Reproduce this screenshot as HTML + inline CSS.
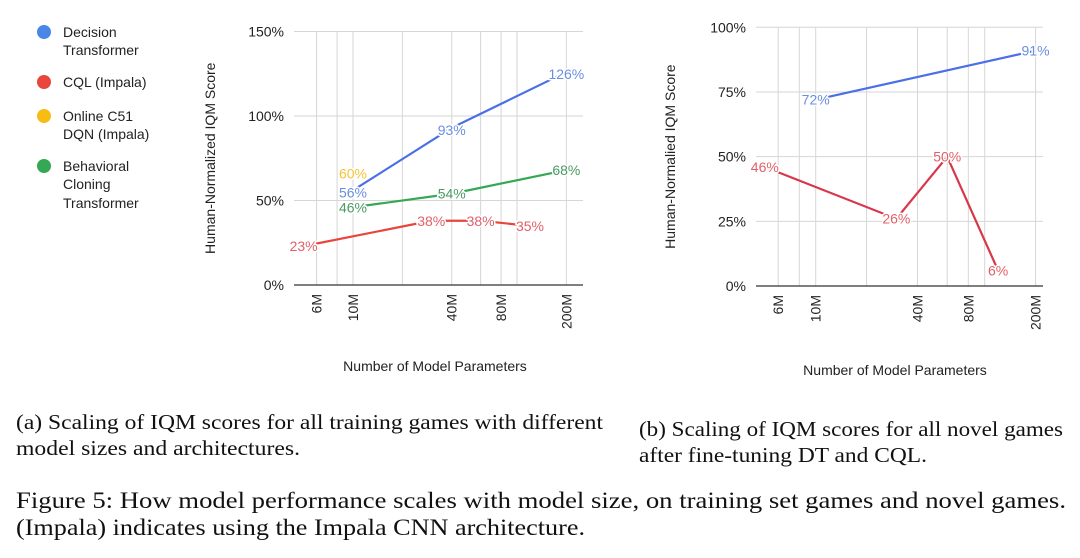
<!DOCTYPE html>
<html><head><meta charset="utf-8"><style>
html,body{margin:0;padding:0;background:#fff;}
svg{display:block;font-family:"Liberation Sans",Arial,sans-serif;}
.serif{font-family:"Liberation Serif","Times New Roman",serif;fill:#111;}
.tick{font-size:14px;fill:#222;}
.lab{font-size:14px;paint-order:stroke;stroke:#fff;stroke-width:3px;stroke-linejoin:round;}
.leg{font-size:14px;fill:#222;}
</style></head><body>
<svg id="fig" width="1080" height="558" viewBox="0 0 1080 558">
<g>
 <g><circle cx="44" cy="32" r="7" fill="#4a86e8"/><text class="leg" x="63" y="37">Decision</text><text class="leg" x="63" y="55">Transformer</text></g>
 <g><circle cx="44" cy="82" r="7" fill="#e8453c"/><text class="leg" x="63" y="87">CQL (Impala)</text></g>
 <g><circle cx="44" cy="116" r="7" fill="#f9bc15"/><text class="leg" x="63" y="121">Online C51</text><text class="leg" x="63" y="139">DQN (Impala)</text></g>
 <g><circle cx="44" cy="166" r="7" fill="#34a853"/><text class="leg" x="63" y="171">Behavioral</text><text class="leg" x="63" y="189">Cloning</text><text class="leg" x="63" y="208">Transformer</text></g>
</g>
<g id="chartA"></g>
<g id="chartB"></g>
<text class="serif" x="16" y="429" font-size="21.5" textLength="587" lengthAdjust="spacingAndGlyphs">(a) Scaling of IQM scores for all training games with different</text>
<text class="serif" x="16" y="455" font-size="21.5" textLength="284" lengthAdjust="spacingAndGlyphs">model sizes and architectures.</text>
<text class="serif" x="639" y="436" font-size="21.5" textLength="424" lengthAdjust="spacingAndGlyphs">(b) Scaling of IQM scores for all novel games</text>
<text class="serif" x="639" y="462" font-size="21.5" textLength="288" lengthAdjust="spacingAndGlyphs">after fine-tuning DT and CQL.</text>
<text class="serif" x="16" y="508" font-size="23.5" textLength="1050" lengthAdjust="spacingAndGlyphs">Figure 5: How model performance scales with model size, on training set games and novel games.</text>
<text class="serif" x="16" y="535" font-size="23.5" textLength="569" lengthAdjust="spacingAndGlyphs">(Impala) indicates using the Impala CNN architecture.</text>
</svg>
<script>
// Chart A data
const aDtSizes = [10, 40, 200];
const aDtVals = [56, 93, 126];
const aCqlSizes = [5, 30, 60, 120];
const aCqlVals = [23, 38, 38, 35];
const aC51Sizes = [10];
const aC51Vals = [60];
const aBcSizes = [10, 40, 200];
const aBcVals = [46, 54, 68];
const aYTicks = [0, 50, 100, 150];
// Chart B data
const bDtSizes = [10, 200];
const bDtVals = [72, 91];
const bCqlSizes = [5, 30, 60, 120];
const bCqlVals = [46, 26, 50, 6];
const bYTicks = [0, 25, 50, 75, 100];
// shared axis
const xTickLabels = ['6M', '10M', '40M', '80M', '200M'];
const xTickVals = [6, 10, 40, 80, 200];
const xGridVals = [6, 8, 10, 20, 40, 60, 80, 100, 200];

const NS = 'http://www.w3.org/2000/svg';
function mk(parent, tag, attrs, text) {
  const e = document.createElementNS(NS, tag);
  for (const k in attrs) e.setAttribute(k, attrs[k]);
  if (text !== undefined) e.textContent = text;
  parent.appendChild(e);
  return e;
}
function drawChart(g, cfg) {
  const xs = v => cfg.x10 + Math.log10(v / 10) * cfg.pxDec;
  const ys = v => cfg.y0 - (v / cfg.yMax) * (cfg.y0 - cfg.yTop);
  xGridVals.forEach(v => {
    const l = mk(g, 'line', {x1: xs(v), x2: xs(v), y1: cfg.yTop, y2: cfg.y0, stroke: '#d6d6d6', 'stroke-width': 1});
    
    
  });
  cfg.yTicks.forEach(v => {
    const l = mk(g, 'line', {x1: cfg.xL, x2: cfg.xR, y1: ys(v), y2: ys(v), stroke: v === 0 ? '#333' : '#d6d6d6', 'stroke-width': v === 0 ? 1.3 : 1});
    
    
    const t = mk(g, 'text', {class: 'tick', x: cfg.xL - 10, y: ys(v) + 5, 'text-anchor': 'end'}, v + '%');
    
    
  });
  xTickVals.forEach((v, i) => {
    const x = xs(v) + 5;
    const t = mk(g, 'text', {class: 'tick', x: 0, y: 0, 'text-anchor': 'end', transform: `translate(${x},${cfg.y0 + 9}) rotate(-90)`}, xTickLabels[i]);
    
    
  });
  const yt = mk(g, 'text', {class: 'tick', 'text-anchor': 'middle', transform: `translate(${cfg.yTitleX},${(cfg.yTop + cfg.y0) / 2}) rotate(-90)`}, cfg.yTitle);
  
  
  const xt = mk(g, 'text', {class: 'tick', x: cfg.xTitleX, y: cfg.xTitleY, 'text-anchor': 'middle'}, 'Number of Model Parameters');
  
  
  cfg.series.forEach(s => {
    const pts = s.sizes.map((v, i) => xs(v) + ',' + ys(s.vals[i])).join(' ');
    if (s.sizes.length > 1) {
      const p = mk(g, 'polyline', {points: pts, fill: 'none', stroke: s.color, 'stroke-width': 2.2});
      
      
    }
    s.sizes.forEach((v, i) => {
      const t = mk(g, 'text', {class: 'lab', x: xs(v), y: ys(s.vals[i]) + 5 + (s.dy || 0), 'text-anchor': 'middle', fill: s.labColor}, s.vals[i] + '%');
      
      
    });
  });
}
drawChart(document.getElementById('chartA'), {
  x10: 353, pxDec: 164, y0: 285, yTop: 31.5, yMax: 150, xL: 294, xR: 583,
  yTicks: aYTicks, yTitle: 'Human-Normalized IQM Score', yTitleX: 215, xTitleX: 435, xTitleY: 371,
  series: [
    {name: 'cql', sizes: aCqlSizes, vals: aCqlVals, color: '#e8453c', labColor: '#e0606a'},
    {name: 'bc', sizes: aBcSizes, vals: aBcVals, color: '#34a853', labColor: '#4a9a62'},
    {name: 'c51', sizes: aC51Sizes, vals: aC51Vals, color: '#f9bc15', labColor: '#f5c430', dy: -10},
    {name: 'dt', sizes: aDtSizes, vals: aDtVals, color: '#4a6fe8', labColor: '#6a8ee0', dy: 2}
  ]
});
drawChart(document.getElementById('chartB'), {
  x10: 815.7, pxDec: 169, y0: 286, yTop: 27.3, yMax: 100, xL: 756, xR: 1043,
  yTicks: bYTicks, yTitle: 'Human-Normalied IQM Score', yTitleX: 675, xTitleX: 895, xTitleY: 375,
  series: [
    {name: 'cql', sizes: bCqlSizes, vals: bCqlVals, color: '#d9364a', labColor: '#e0606a'},
    {name: 'dt', sizes: bDtSizes, vals: bDtVals, color: '#4a6fe8', labColor: '#6a8ee0'}
  ]
});
</script>
</body></html>
